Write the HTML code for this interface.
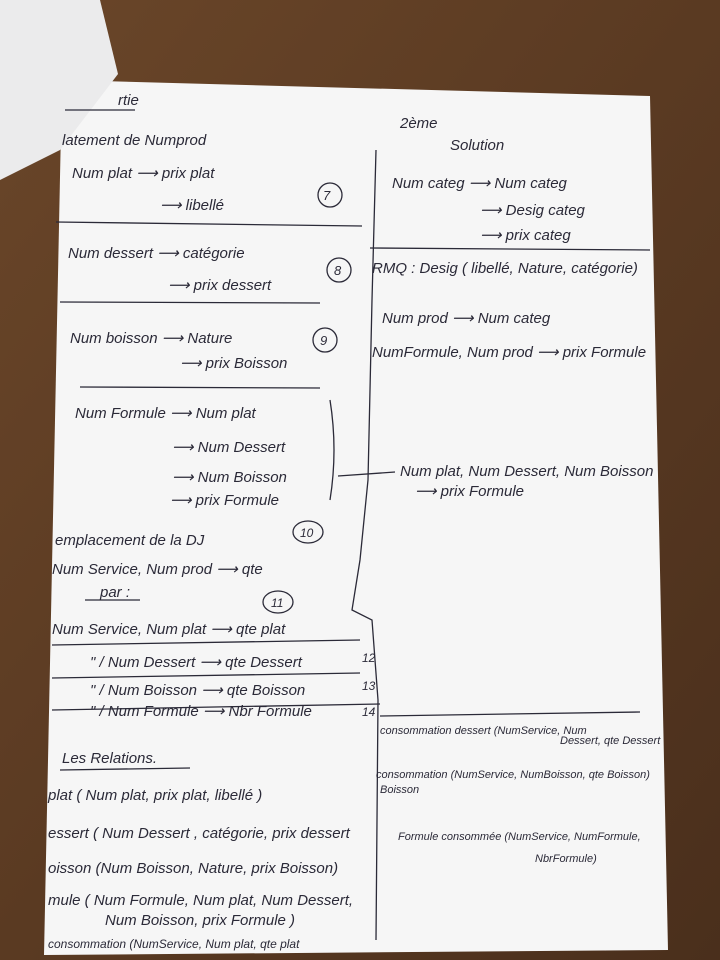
<!DOCTYPE html>
<html><head><meta charset="utf-8"><style>
html,body{margin:0;padding:0;width:720px;height:960px;overflow:hidden;background:#5b3b24}
svg{display:block}
text{font-family:"Liberation Sans",sans-serif;font-style:italic;fill:#2b2a38}
</style></head><body>
<svg width="720" height="960" viewBox="0 0 720 960">
<defs><linearGradient id="w" x1="0" y1="0" x2="1" y2="1"><stop offset="0" stop-color="#6a4629"/><stop offset="0.5" stop-color="#5a3a22"/><stop offset="1" stop-color="#4a2f1c"/></linearGradient></defs>
<rect width="720" height="960" fill="url(#w)"/>
<polygon points="62,80 650,96 668,950 44,955" fill="#f6f6f6"/>
<polygon points="0,0 100,0 118,74 60,150 0,180" fill="#ebebec"/>
<g stroke="#2b2a38" stroke-width="1.3" fill="none">
<path d="M376,150 L372,300 L368,480 L360,560 L352,610 L372,620 L378,700 L376,940"/>
<line x1="56" y1="222" x2="362" y2="226"/>
<line x1="60" y1="302" x2="320" y2="303"/>
<line x1="80" y1="387" x2="320" y2="388"/>
<line x1="370" y1="248" x2="650" y2="250"/>
<line x1="52" y1="645" x2="360" y2="640"/>
<line x1="52" y1="678" x2="360" y2="673"/>
<line x1="52" y1="710" x2="380" y2="704"/>
<line x1="380" y1="716" x2="640" y2="712"/>
<path d="M330,400 Q338,450 330,500 M338,476 L395,472"/>
<circle cx="330" cy="195" r="12"/><circle cx="339" cy="270" r="12"/><circle cx="325" cy="340" r="12"/>
<ellipse cx="308" cy="532" rx="15" ry="11"/><ellipse cx="278" cy="602" rx="15" ry="11"/>
<line x1="65" y1="110" x2="135" y2="110"/><line x1="85" y1="600" x2="140" y2="600"/>
<line x1="60" y1="770" x2="190" y2="768"/>
</g>
<g font-size="15">
<text x="118" y="105">rtie</text>
<text x="400" y="128">2ème</text><text x="450" y="150">Solution</text>
<text x="62" y="145">latement de Numprod</text>
<text x="72" y="178">Num plat ⟶ prix plat</text><text x="160" y="210">⟶ libellé</text>
<text x="323" y="200" font-size="13">7</text>
<text x="68" y="258">Num dessert ⟶ catégorie</text><text x="168" y="290">⟶ prix dessert</text>
<text x="334" y="275" font-size="13">8</text>
<text x="70" y="343">Num boisson ⟶ Nature</text><text x="180" y="368">⟶ prix Boisson</text>
<text x="320" y="345" font-size="13">9</text>
<text x="75" y="418">Num Formule ⟶ Num plat</text>
<text x="172" y="452">⟶ Num Dessert</text><text x="172" y="482">⟶ Num Boisson</text><text x="170" y="505">⟶ prix Formule</text>
<text x="400" y="476">Num plat, Num Dessert, Num Boisson</text><text x="415" y="496">⟶ prix Formule</text>
<text x="55" y="545">emplacement de la DJ</text><text x="300" y="537" font-size="12">10</text>
<text x="52" y="574">Num Service, Num prod ⟶ qte</text>
<text x="100" y="597">par :</text><text x="271" y="607" font-size="12">11</text>
<text x="52" y="634">Num Service, Num plat ⟶ qte plat</text>
<text x="90" y="667">"   / Num Dessert ⟶ qte Dessert</text><text x="362" y="662" font-size="12">12</text>
<text x="90" y="695">"   / Num Boisson ⟶ qte Boisson</text><text x="362" y="690" font-size="12">13</text>
<text x="90" y="716">"   / Num Formule ⟶ Nbr Formule</text><text x="362" y="716" font-size="12">14</text>
<text x="392" y="188">Num categ ⟶ Num categ</text>
<text x="480" y="215">⟶ Desig categ</text><text x="480" y="240">⟶ prix categ</text>
<text x="372" y="273">RMQ : Desig ( libellé, Nature, catégorie)</text>
<text x="382" y="323">Num prod ⟶ Num categ</text>
<text x="372" y="357">NumFormule, Num prod ⟶ prix Formule</text>
<text x="380" y="734" font-size="11">consommation dessert (NumService, Num</text><text x="560" y="744" font-size="11">Dessert, qte Dessert</text>
<text x="376" y="778" font-size="11">consommation (NumService, NumBoisson, qte Boisson)</text><text x="380" y="793" font-size="11">Boisson</text>
<text x="398" y="840" font-size="11">Formule consommée (NumService, NumFormule,</text><text x="535" y="862" font-size="11">NbrFormule)</text>
<text x="62" y="763">Les Relations.</text>
<text x="48" y="800">plat ( Num plat, prix plat, libellé )</text>
<text x="48" y="838">essert ( Num Dessert , catégorie, prix dessert</text>
<text x="48" y="873">oisson (Num Boisson, Nature, prix Boisson)</text>
<text x="48" y="905">mule ( Num Formule, Num plat, Num Dessert,</text>
<text x="105" y="925">Num Boisson, prix Formule )</text>
<text x="48" y="948" font-size="12">consommation (NumService, Num plat, qte plat</text>
</g>
</svg>
</body></html>
